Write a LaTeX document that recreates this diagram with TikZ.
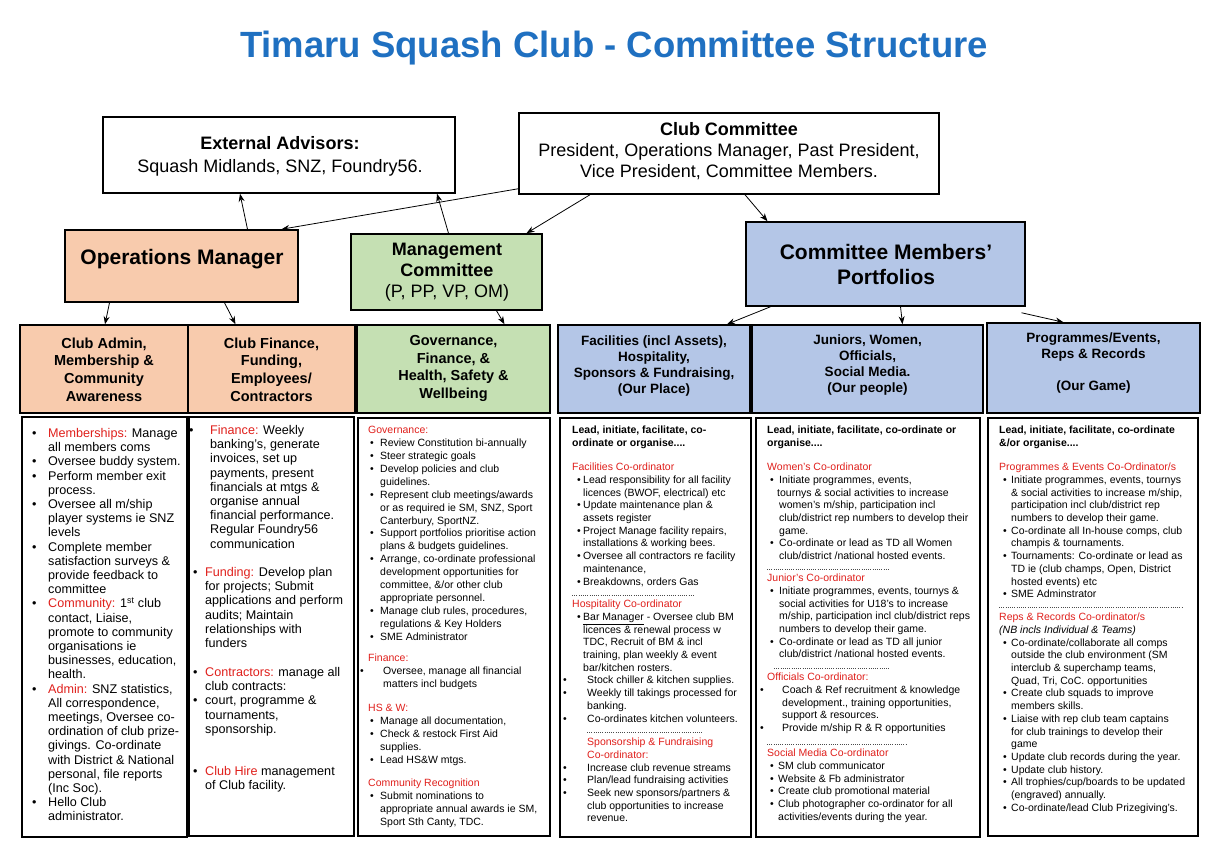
\documentclass[tikz,border=0pt]{standalone}
\usepackage{fontspec}
\setmainfont{Liberation Sans}
\usetikzlibrary{arrows.meta}
\definecolor{tblue}{HTML}{1F70C1}
\definecolor{tred}{HTML}{E0201C}
\definecolor{peach}{HTML}{F8CBAD}
\definecolor{lgreen}{HTML}{C5E0B3}
\definecolor{lblue}{HTML}{B4C6E7}
\newcommand\R[1]{\textcolor{tred}{#1}}
\newcommand\B[2]{\hspace*{#1pt}\makebox[#2pt][l]{\textbullet}}
\newcommand\C[1]{\hspace*{#1pt}}
\newcommand\sts{\rule{0pt}{9pt}}
\newcommand\stl{\rule{0pt}{11pt}}
\begin{document}
\begin{tikzpicture}[x=1pt,y=-1pt,
 box/.style={draw=black, line width=1.5pt, inner sep=0pt},
 lbl/.style={inner sep=0pt, align=center},
 det/.style={anchor=north west, inner sep=0pt, align=left, font=\fontsize{10.5}{12.7}\selectfont},
 detg/.style={anchor=north west, inner sep=0pt, align=left, font=\fontsize{10.5}{12.9}\selectfont},
 detl/.style={anchor=north west, inner sep=0pt, align=left, font=\fontsize{12.6}{14.2}\selectfont},
 arr/.style={-{Stealth[length=8pt,width=6pt]}, line width=0.8pt},
 dots/.style={draw=black!70, line width=0.6pt, dash pattern=on 0.8pt off 1.4pt}]
\useasboundingbox (0,0) rectangle (1217,851);
\fill[white] (0,0) rectangle (1217,851);

\node[font=\bfseries\fontsize{36.5}{40}\selectfont, text=tblue, inner sep=0pt] (title) at (614,48) {Timaru Squash Club - Committee Structure};

% top boxes
\node[box, minimum width=352pt, minimum height=76pt] (ext) at (279,155) {};
\node[lbl, font=\fontsize{18}{23}\selectfont] (extt) at (280,156) {\textbf{External Advisors:}\\Squash Midlands, SNZ, Foundry56.};
\node[box, minimum width=420pt, minimum height=81pt] (cc) at (729,153.5) {};
\node[lbl, font=\fontsize{18}{21}\selectfont] (cct) at (729,151) {\textbf{Club Committee}\\President, Operations Manager, Past President,\\Vice President, Committee Members.};

\node[box, fill=peach, minimum width=233pt, minimum height=72pt] (ops) at (181.5,266) {};
\node[lbl, font=\bfseries\fontsize{21}{25}\selectfont] (opst) at (182,259) {Operations Manager};
\node[box, fill=lgreen, minimum width=191pt, minimum height=76pt] (mc) at (446.5,272) {};
\node[lbl, font=\fontsize{18}{21}\selectfont] (mct) at (447,272) {\textbf{Management}\\\textbf{Committee}\\(P, PP, VP, OM)};
\node[box, fill=lblue, minimum width=279pt, minimum height=84pt] (port) at (885.5,264) {};
\node[lbl, font=\bfseries\fontsize{21}{25}\selectfont] (portt) at (886,264.5) {Committee Members’\\Portfolios};

% header row
\node[box, fill=peach, minimum width=168pt, minimum height=88pt] (h1) at (104,369) {};
\node[box, fill=peach, minimum width=167pt, minimum height=88pt] (h2) at (271.5,369) {};
\node[box, fill=lgreen, minimum width=193pt, minimum height=88pt] (h3) at (453.5,369) {};
\node[box, fill=lblue, minimum width=192pt, minimum height=88pt] (h4) at (654,369) {};
\node[box, fill=lblue, minimum width=231pt, minimum height=88pt] (h5) at (867.5,369) {};
\node[box, fill=lblue, minimum width=213pt, minimum height=90pt] (h6) at (1093.5,368) {};
\node[lbl, font=\bfseries\fontsize{14.5}{17.6}\selectfont] (h1t) at (104,369.5) {Club Admin,\\Membership \&\\Community\\Awareness};
\node[lbl, font=\bfseries\fontsize{14.5}{17.6}\selectfont] (h2t) at (271.5,369.5) {Club Finance,\\Funding,\\Employees/\\Contractors};
\node[lbl, font=\bfseries\fontsize{14.5}{17.6}\selectfont] (h3t) at (453.5,368.5) {Governance,\\Finance, \&\\Health, Safety \&\\Wellbeing};
\node[lbl, font=\bfseries\fontsize{13.5}{16}\selectfont] (h4t) at (654,366) {Facilities (incl Assets),\\Hospitality,\\Sponsors \& Fundraising,\\(Our Place)};
\node[lbl, font=\bfseries\fontsize{13.5}{16}\selectfont] (h5t) at (867.5,365) {Juniors, Women,\\Officials,\\Social Media.\\(Our people)};
\node[lbl, font=\bfseries\fontsize{13.5}{16}\selectfont] (h6t) at (1093.5,363) {Programmes/Events,\\Reps \& Records\\[16pt](Our Game)};

% detail boxes
\node[box, minimum width=165pt, minimum height=420pt] (d1) at (104.5,627) {};
\node[box, minimum width=165pt, minimum height=419pt] (d2) at (271.5,626.5) {};
\node[box, minimum width=192pt, minimum height=418pt] (d3) at (454,627) {};
\node[box, minimum width=191pt, minimum height=419pt] (d4) at (655.5,627.5) {};
\node[box, minimum width=224pt, minimum height=419pt] (d5) at (868,627.5) {};
\node[box, minimum width=210pt, minimum height=418pt] (d6) at (1093,627) {};

% arrows
\draw[arr] ([xshift=66]ops.north) -- ([xshift=-39]ext.south);
\draw[arr] ([yshift=6]cc.south west) -- ([xshift=100]ops.north);
\draw[arr] ([xshift=2]mc.north) -- ([xshift=158]ext.south);
\draw[arr] ([xshift=-139]cc.south) -- ([xshift=80]mc.north);
\draw[arr] ([xshift=16]cc.south) -- ([xshift=-118]port.north);
\draw[arr] ([xshift=-72]ops.south) -- ([xshift=1]h1.north);
\draw[arr] ([xshift=43]ops.south) -- ([xshift=-36]h2.north);
\draw[arr] ([xshift=50]mc.south) -- ([xshift=51]h3.north);
\draw[arr] ([xshift=-115]port.south) -- ([xshift=73]h4.north);
\draw[arr] ([xshift=15]port.south) -- ([xshift=35]h5.north);
\draw[arr] ([xshift=136,yshift=-6]port.south) -- ([xshift=-30]h6.north);

% column 1
\node[detl] (c1) at (32,426.2) {\stl\B{0}{16}\R{Memberships:} Manage\\
\C{16}all members coms\\
\B{0}{16}Oversee buddy system.\\
\B{0}{16}Perform member exit\\
\C{16}process.\\
\B{0}{16}Oversee all m/ship\\
\C{16}player systems ie SNZ\\
\C{16}levels\\
\B{0}{16}Complete member\\
\C{16}satisfaction surveys \&\\
\C{16}provide feedback to\\
\C{16}committee\\
\B{0}{16}\R{Community:} 1\textsuperscript{st} club\\
\C{16}contact, Liaise,\\
\C{16}promote to community\\
\C{16}organisations ie\\
\C{16}businesses, education,\\
\C{16}health.\\
\B{0}{16}\R{Admin:} SNZ statistics,\\
\C{16}All correspondence,\\
\C{16}meetings, Oversee co-\\
\C{16}ordination of club prize-\\
\C{16}givings. Co-ordinate\\
\C{16}with District \& National\\
\C{16}personal, file reports\\
\C{16}(Inc Soc).\\
\B{0}{16}Hello Club\\
\C{16}administrator.};

% column 2
\node[detl] (c2a) at (189,423.2) {\stl\B{0}{21}\R{Finance:} Weekly\\
\C{21}banking's, generate\\
\C{21}invoices, set up\\
\C{21}payments, present\\
\C{21}financials at mtgs \&\\
\C{21}organise annual\\
\C{21}financial performance.\\
\C{21}Regular Foundry56\\
\C{21}communication};
\node[detl] (c2b) at (189,565.2) {\stl\B{4}{12}\R{Funding:} Develop plan\\
\C{16}for projects; Submit\\
\C{16}applications and perform\\
\C{16}audits; Maintain\\
\C{16}relationships with\\
\C{16}funders};
\node[detl] (c2c) at (189,665.2) {\stl\B{4}{12}\R{Contractors:} manage all\\
\C{16}club contracts:\\
\B{4}{12}court, programme \&\\
\C{16}tournaments,\\
\C{16}sponsorship.};
\node[detl] (c2d) at (189,764.2) {\stl\B{4}{12}\R{Club Hire} management\\
\C{16}of Club facility.};

% column 3
\node[detg] (c3a) at (360,424.5) {\sts\C{8}\R{Governance:}\\
\B{10}{10}Review Constitution bi-annually\\
\B{10}{10}Steer strategic goals\\
\B{10}{10}Develop policies and club\\
\C{20}guidelines.\\
\B{10}{10}Represent club meetings/awards\\
\C{20}or as required ie SM, SNZ, Sport\\
\C{20}Canterbury, SportNZ.\\
\B{10}{10}Support portfolios prioritise action\\
\C{20}plans \& budgets guidelines.\\
\B{10}{10}Arrange, co-ordinate professional\\
\C{20}development opportunities for\\
\C{20}committee, \&/or other club\\
\C{20}appropriate personnel.\\
\B{10}{10}Manage club rules, procedures,\\
\C{20}regulations \& Key Holders\\
\B{10}{10}SME Administrator};
\node[detg] (c3b) at (360,652.5) {\sts\C{8}\R{Finance:}\\
\B{0}{23}Oversee, manage all financial\\
\C{23}matters incl budgets};
\node[detg] (c3c) at (360,702.5) {\sts\C{8}\R{HS \& W:}\\
\B{10}{10}Manage all documentation,\\
\B{10}{10}Check \& restock First Aid\\
\C{20}supplies.\\
\B{10}{10}Lead HS\&W mtgs.};
\node[detg] (c3d) at (360,777.5) {\sts\C{8}\R{Community Recognition}\\
\B{10}{10}Submit nominations to\\
\C{20}appropriate annual awards ie SM,\\
\C{20}Sport Sth Canty, TDC.};

% column 4
\node[det] (c4a) at (572,424.5) {\sts\textbf{Lead, initiate, facilitate, co-}\\
\textbf{ordinate or organise....}};
\node[det] (c4b) at (572,461.5) {\sts\R{Facilities Co-ordinator}\\
\B{5}{6}Lead responsibility for all facility\\
\C{11}licences (BWOF, electrical) etc\\
\B{5}{6}Update maintenance plan \&\\
\C{11}assets register\\
\B{5}{6}Project Manage facility repairs,\\
\C{11}installations \& working bees.\\
\B{5}{6}Oversee all contractors re facility\\
\C{11}maintenance,\\
\B{5}{6}Breakdowns, orders Gas};
\node[det] (c4c) at (563,598.5) {\sts\C{9}\R{Hospitality Co-ordinator}\\
\B{14}{6}\underline{Bar Manager} - Oversee club BM\\
\C{20}licences \& renewal process w\\
\C{20}TDC, Recruit of BM \& incl\\
\C{20}training, plan weekly \& event\\
\C{20}bar/kitchen rosters.\\
\B{0}{24}Stock chiller \& kitchen supplies.\\
\B{0}{24}Weekly till takings processed for\\
\C{24}banking.\\
\B{0}{24}Co-ordinates kitchen volunteers.};
\node[det] (c4d) at (563,736.5) {\sts\C{24}\R{Sponsorship \& Fundraising}\\
\C{24}\R{Co-ordinator:}\\
\B{0}{24}Increase club revenue streams\\
\B{0}{24}Plan/lead fundraising activities\\
\B{0}{24}Seek new sponsors/partners \&\\
\C{24}club opportunities to increase\\
\C{24}revenue.};

% column 5
\node[det] (c5a) at (767,424.5) {\sts\textbf{Lead, initiate, facilitate, co-ordinate or}\\
\textbf{organise....}};
\node[det] (c5b) at (767,461.5) {\sts\R{Women's Co-ordinator}\\
\B{3}{9}Initiate programmes, events,\\
\C{10}tournys \& social activities to increase\\
\C{12}women's m/ship, participation incl\\
\C{12}club/district rep numbers to develop their\\
\C{12}game.\\
\B{3}{9}Co-ordinate or lead as TD all Women\\
\C{12}club/district /national hosted events.};
\node[det] (c5c) at (767,572.5) {\sts\R{Junior's Co-ordinator}\\
\B{3}{9}Initiate programmes, events, tournys \&\\
\C{12}social activities for U18's to increase\\
\C{12}m/ship, participation incl club/district reps\\
\C{12}numbers to develop their game.\\
\B{3}{9}Co-ordinate or lead as TD all junior\\
\C{12}club/district /national hosted events.};
\node[det] (c5d) at (760,671.5) {\sts\C{7}\R{Officials Co-ordinator:}\\
\B{0}{22}Coach \& Ref recruitment \& knowledge\\
\C{22}development., training opportunities,\\
\C{22}support \& resources.\\
\B{0}{22}Provide m/ship R \& R opportunities};
\node[det] (c5e) at (767,747.5) {\sts\R{Social Media Co-ordinator}\\
\B{3}{8}SM club communicator\\
\B{3}{8}Website \& Fb administrator\\
\B{3}{8}Create club promotional material\\
\B{3}{8}Club photographer co-ordinator for all\\
\C{11}activities/events during the year.};

% column 6
\node[det] (c6a) at (999,424.5) {\sts\textbf{Lead, initiate, facilitate, co-ordinate}\\
\textbf{\&/or organise....}};
\node[det] (c6b) at (999,461.5) {\sts\R{Programmes \& Events Co-Ordinator/s}\\
\B{4}{8}Initiate programmes, events, tournys\\
\C{12}\& social activities to increase m/ship,\\
\C{12}participation incl club/district rep\\
\C{12}numbers to develop their game.\\
\B{4}{8}Co-ordinate all In-house comps, club\\
\C{12}champis \& tournaments.\\
\B{4}{8}Tournaments: Co-ordinate or lead as\\
\C{12}TD ie (club champs, Open, District\\
\C{12}hosted events) etc\\
\B{4}{8}SME Adminstrator};
\node[det] (c6c) at (999,611.5) {\sts\R{Reps \& Records Co-ordinator/s}\\
\textit{(NB incls Individual \& Teams)}\\
\B{4}{8}Co-ordinate/collaborate all comps\\
\C{12}outside the club environment (SM\\
\C{12}interclub \& superchamp teams,\\
\C{12}Quad, Tri, CoC. opportunities\\
\B{4}{8}Create club squads to improve\\
\C{12}members skills.\\
\B{4}{8}Liaise with rep club team captains\\
\C{12}for club trainings to develop their\\
\C{12}game\\
\B{4}{8}Update club records during the year.\\
\B{4}{8}Update club history.\\
\B{4}{8}All trophies/cup/boards to be updated\\
\C{12}(engraved) annually.\\
\B{4}{8}Co-ordinate/lead Club Prizegiving's.};

% dotted separators
\coordinate (s1) at (572,595);
\coordinate (s2) at (587,732);
\coordinate (s3) at (767,569);
\coordinate (s4) at (774,668);
\coordinate (s5) at (767,744);
\coordinate (s6) at (999,607);
\draw[dots] (s1) -- +(123,0);
\draw[dots] (s2) -- +(116,0);
\draw[dots] (s3) -- +(122,0);
\draw[dots] (s4) -- +(116,0);
\draw[dots] (s5) -- +(140,0);
\draw[dots] (s6) -- +(184,0);
\end{tikzpicture}
\end{document}
